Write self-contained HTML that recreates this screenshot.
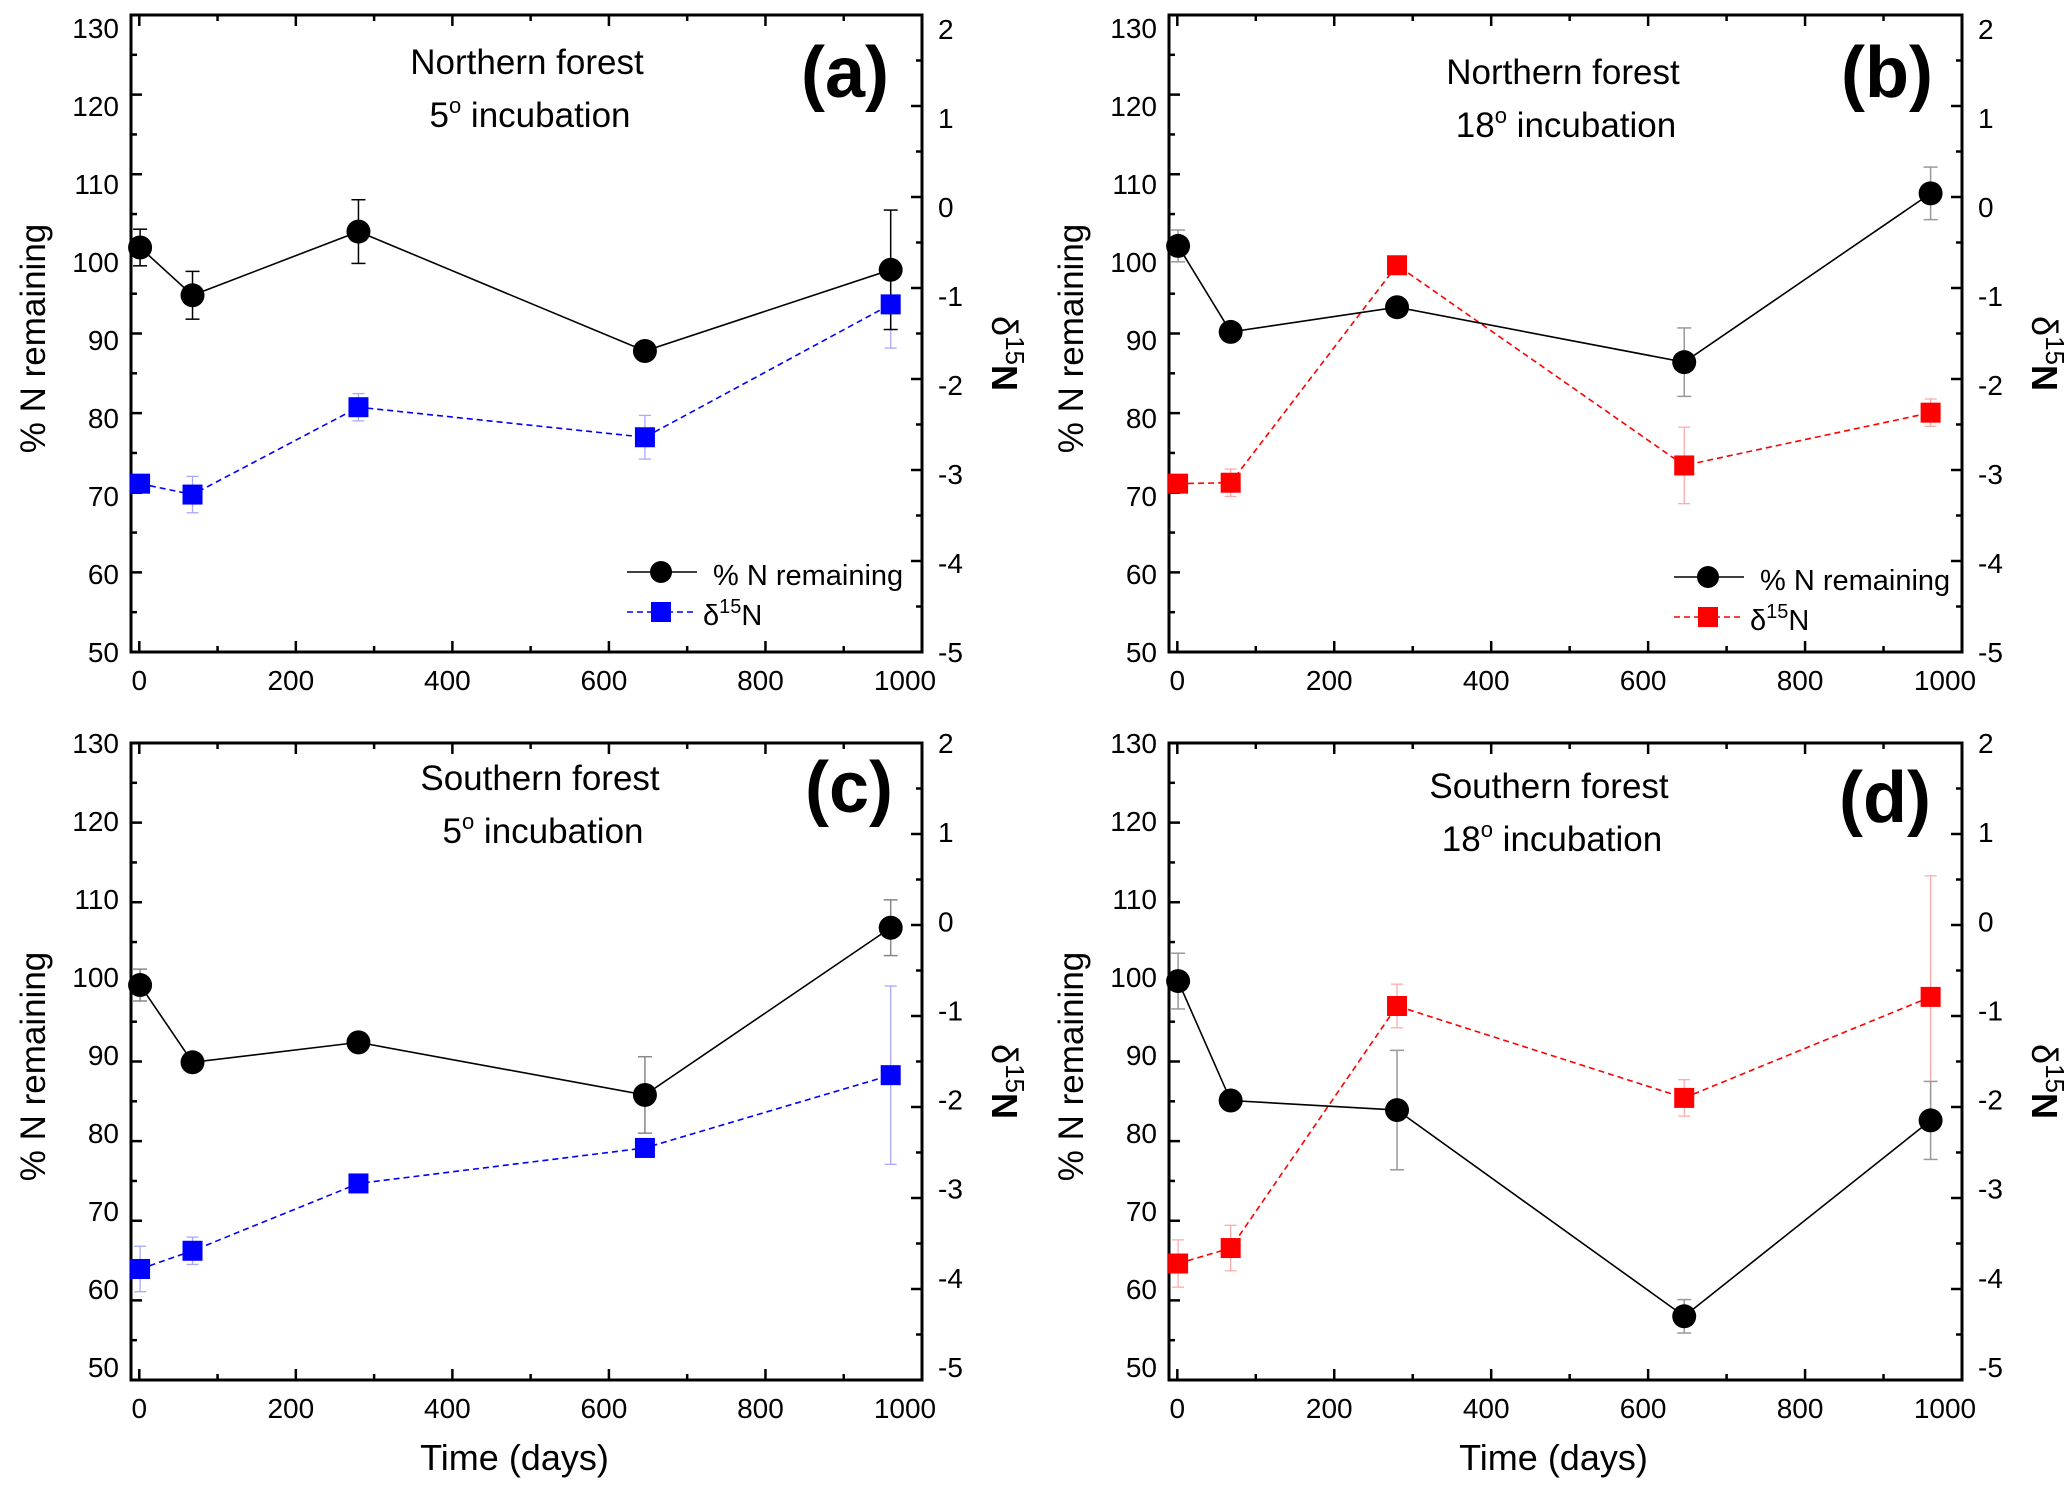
<!DOCTYPE html>
<html><head><meta charset="utf-8"><style>
html,body{margin:0;padding:0;background:#fff;}
svg{display:block;font-family:"Liberation Sans",Arial,sans-serif;}
</style></head><body>
<svg id="fig" width="2067" height="1493" viewBox="0 0 2067 1493"></svg>
<script>
// ---- data ----
const days = [1, 68, 280, 646, 960];
const aN = [100.8, 94.8, 102.8, 87.8, 98.0];
const aNerr = [2.3, 3.0, 4.0, 0, 7.5];
const aD = [-3.15, -3.27, -2.31, -2.64, -1.18];
const aDerr = [0, 0.2, 0.15, 0.24, 0.48];
const bN = [101.0, 90.2, 93.3, 86.4, 107.6];
const bNerr = [2.0, 0, 0, 4.3, 3.3];
const bD = [-3.15, -3.14, -0.75, -2.95, -2.37];
const bDerr = [0, 0.15, 0, 0.42, 0.15];
const cN = [99.6, 89.9, 92.4, 85.8, 106.8];
const cNerr = [2.0, 1.0, 0, 4.8, 3.5];
const cD = [-3.78, -3.58, -2.84, -2.45, -1.65];
const cDerr = [0.25, 0.15, 0, 0, 0.98];
const dN = [100.1, 85.1, 83.9, 58.0, 82.6];
const dNerr = [3.5, 0, 7.5, 2.1, 4.9];
const dD = [-3.72, -3.55, -0.89, -1.90, -0.79];
const dDerr = [0.26, 0.25, 0.24, 0.2, 1.33];
const xTicks = [0, 200, 400, 600, 800, 1000];
const yTicks = [50, 60, 70, 80, 90, 100, 110, 120, 130];
const y2Ticks = [-5, -4, -3, -2, -1, 0, 1, 2];

const NS = "http://www.w3.org/2000/svg";
const svg = document.getElementById('fig');
function mk(tag, attrs, parent, txt) {
  const e = document.createElementNS(NS, tag);
  for (const k in attrs) e.setAttribute(k, attrs[k]);
  if (txt !== undefined) e.textContent = txt;
  (parent || svg).appendChild(e);
  return e;
}

function panel(o) {
  const g = mk('g', {});
  
  
  const L = o.L, R = o.R, T = o.T, B = o.B;
  const xmin = -10.6, xmax = 1000;
  const X = v => L + (v - xmin) / (xmax - xmin) * (R - L);
  const Y = v => B - (v - 50) / 80 * (B - T);
  const Y2 = v => B - (v + 5) / 7 * (B - T);
  for (let v = 0; v <= 1000; v += 100) {
    const len = v % 200 === 0 ? 11 : 6;
    mk('line', {x1: X(v), x2: X(v), y1: B, y2: B - len, stroke: '#000', 'stroke-width': 2.5}, g);
    mk('line', {x1: X(v), x2: X(v), y1: T, y2: T + len, stroke: '#000', 'stroke-width': 2.5}, g);
  }
  for (let v = 50; v <= 130; v += 5) {
    const len = v % 10 === 0 ? 11 : 6;
    mk('line', {x1: L, x2: L + len, y1: Y(v), y2: Y(v), stroke: '#000', 'stroke-width': 2.5}, g);
  }
  for (let v = -5; v <= 2; v += 0.5) {
    const len = Number.isInteger(v) ? 11 : 6;
    mk('line', {x1: R, x2: R - len, y1: Y2(v), y2: Y2(v), stroke: '#000', 'stroke-width': 2.5}, g);
  }
  const box = mk('rect', {x: L, y: T, width: R - L, height: B - T, fill: 'none', stroke: '#000', 'stroke-width': 3}, g);
  
  
  xTicks.forEach(v => {
    let x = X(v); if (v === 1000) x -= 17; else if (v > 0) x -= 5;
    const t = mk('text', {x: x, y: B + 38, 'text-anchor': 'middle', 'font-size': 28}, g, String(v));
    
    
  });
  yTicks.forEach(v => {
    const f = (v - 50) / 80;
    const off = o.bottom ? -13 * (1 - f) : 13 * f;
    const t = mk('text', {x: L - 12, y: Y(v) + off + 10, 'text-anchor': 'end', 'font-size': 28}, g, String(v));
    
    
  });
  y2Ticks.forEach(v => {
    const f = (v + 5) / 7;
    const off = o.bottom ? -13 * (1 - f) : 14 * f;
    const t = mk('text', {x: R + 16, y: Y2(v) + off + 10, 'text-anchor': 'start', 'font-size': 28}, g, String(v));
    
    
  });
  const yt = mk('text', {x: 0, y: 0, transform: `translate(${L - 86},${(T + B) / 2 + 5}) rotate(-90)`, 'text-anchor': 'middle', 'font-size': 35}, g, '% N remaining');
  
  
  const y2t = mk('text', {x: 0, y: 0, transform: `translate(${R + 70},${(T + B) / 2 + 20}) rotate(90)`, 'text-anchor': 'middle', 'font-size': 36}, g);
  
  
  mk('tspan', {}, y2t, 'δ');
  mk('tspan', {dy: -14, 'font-size': 26}, y2t, '15');
  mk('tspan', {dy: 14, 'font-weight': 'bold'}, y2t, 'N');
  if (o.xtitle) {
    const xt = mk('text', {x: (L + R) / 2 - 12, y: B + 90, 'text-anchor': 'middle', 'font-size': 36}, g, 'Time (days)');
    
    
  }
  const t1 = mk('text', {x: o.tx, y: o.ty, 'text-anchor': 'middle', 'font-size': 35}, g, o.t1);
  
  
  const t2 = mk('text', {x: o.tx + 3, y: o.ty + 53, 'text-anchor': 'middle', 'font-size': 35}, g);
  
  
  mk('tspan', {}, t2, o.temp);
  mk('tspan', {dy: -14, 'font-size': 22}, t2, 'o');
  mk('tspan', {dy: 14}, t2, ' incubation');
  const pl = mk('text', {x: o.lx, y: o.ly + 25, 'text-anchor': 'middle', 'font-size': 72, 'font-weight': 'bold'}, g, '(' + o.id + ')');
  
  
  const col = o.color, ecol = o.ecolor;
  const dpts = days.map((d, i) => X(d) + ',' + Y2(o.D[i])).join(' ');
  const dl = mk('polyline', {points: dpts, fill: 'none', stroke: col, 'stroke-width': 1.6, 'stroke-dasharray': '6,4'}, g);
  
  
  days.forEach((d, i) => {
    const e = o.De[i];
    if (e > 0) {
      const x = X(d), y1 = Y2(o.D[i] - e), y2 = Y2(o.D[i] + e);
      mk('line', {x1: x, x2: x, y1: y1, y2: y2, stroke: ecol, 'stroke-width': 1.3}, g);
      mk('line', {x1: x - 6, x2: x + 6, y1: y1, y2: y1, stroke: ecol, 'stroke-width': 1.3}, g);
      mk('line', {x1: x - 6, x2: x + 6, y1: y2, y2: y2, stroke: ecol, 'stroke-width': 1.3}, g);
    }
  });
  const npts = days.map((d, i) => X(d) + ',' + Y(o.N[i])).join(' ');
  const nl = mk('polyline', {points: npts, fill: 'none', stroke: '#000', 'stroke-width': 1.6}, g);
  
  
  days.forEach((d, i) => {
    const e = o.Ne[i];
    if (e > 0) {
      const x = X(d), y1 = Y(o.N[i] - e), y2 = Y(o.N[i] + e);
      mk('line', {x1: x, x2: x, y1: y1, y2: y2, stroke: o.necol, 'stroke-width': 1.5}, g);
      mk('line', {x1: x - 7, x2: x + 7, y1: y1, y2: y1, stroke: o.necol, 'stroke-width': 1.5}, g);
      mk('line', {x1: x - 7, x2: x + 7, y1: y2, y2: y2, stroke: o.necol, 'stroke-width': 1.5}, g);
    }
  });
  days.forEach((d, i) => {
    const s = mk('rect', {x: X(d) - 10, y: Y2(o.D[i]) - 10, width: 20, height: 20, fill: col}, g);
    
    
  });
  days.forEach((d, i) => {
    const c = mk('ellipse', {cx: X(d), cy: Y(o.N[i]), rx: 12, ry: 12, fill: '#000'}, g);
    
    
  });
  if (o.leg) {
    const lg = mk('g', {}, g);
    
    
    const lx = o.leg[0], ly = o.leg[1];
    mk('line', {x1: lx, x2: lx + 70, y1: ly, y2: ly, stroke: '#000', 'stroke-width': 1.6}, lg);
    mk('circle', {cx: lx + 34, cy: ly, r: 11, fill: '#000'}, lg);
    mk('text', {x: lx + 86, y: ly + 13, 'font-size': 29}, lg, '% N remaining');
    mk('line', {x1: lx, x2: lx + 70, y1: ly + 40, y2: ly + 40, stroke: col, 'stroke-width': 1.6, 'stroke-dasharray': '6,4'}, lg);
    mk('rect', {x: lx + 24, y: ly + 30, width: 20, height: 20, fill: col}, lg);
    const lt = mk('text', {x: lx + 76, y: ly + 53, 'font-size': 29}, lg);
    mk('tspan', {}, lt, 'δ');
    mk('tspan', {dy: -12, 'font-size': 20}, lt, '15');
    mk('tspan', {dy: 12}, lt, 'N');
  }
}

panel({id: 'a', L: 131, R: 922, T: 15, B: 652, N: aN, Ne: aNerr, D: aD, De: aDerr, color: '#0000ff', ecolor: '#a8a8ff', necol: '#000',
  t1: 'Northern forest', temp: '5', tx: 527, ty: 74, lx: 845, ly: 72, leg: [627, 572]});
panel({id: 'b', L: 1169, R: 1962, T: 15, B: 652, N: bN, Ne: bNerr, D: bD, De: bDerr, color: '#ff0000', ecolor: '#ffaaaa', necol: '#999',
  t1: 'Northern forest', temp: '18', tx: 1563, ty: 84, lx: 1887, ly: 72, leg: [1674, 577]});
panel({id: 'c', L: 131, R: 922, T: 743, B: 1380, N: cN, Ne: cNerr, D: cD, De: cDerr, color: '#0000ff', ecolor: '#a8a8ff', necol: '#888',
  t1: 'Southern forest', temp: '5', tx: 540, ty: 790, lx: 849, ly: 787, xtitle: true, bottom: true});
panel({id: 'd', L: 1169, R: 1962, T: 743, B: 1380, N: dN, Ne: dNerr, D: dD, De: dDerr, color: '#ff0000', ecolor: '#ffaaaa', necol: '#999',
  t1: 'Southern forest', temp: '18', tx: 1549, ty: 798, lx: 1885, ly: 797, xtitle: true, bottom: true});
</script>
</body></html>
